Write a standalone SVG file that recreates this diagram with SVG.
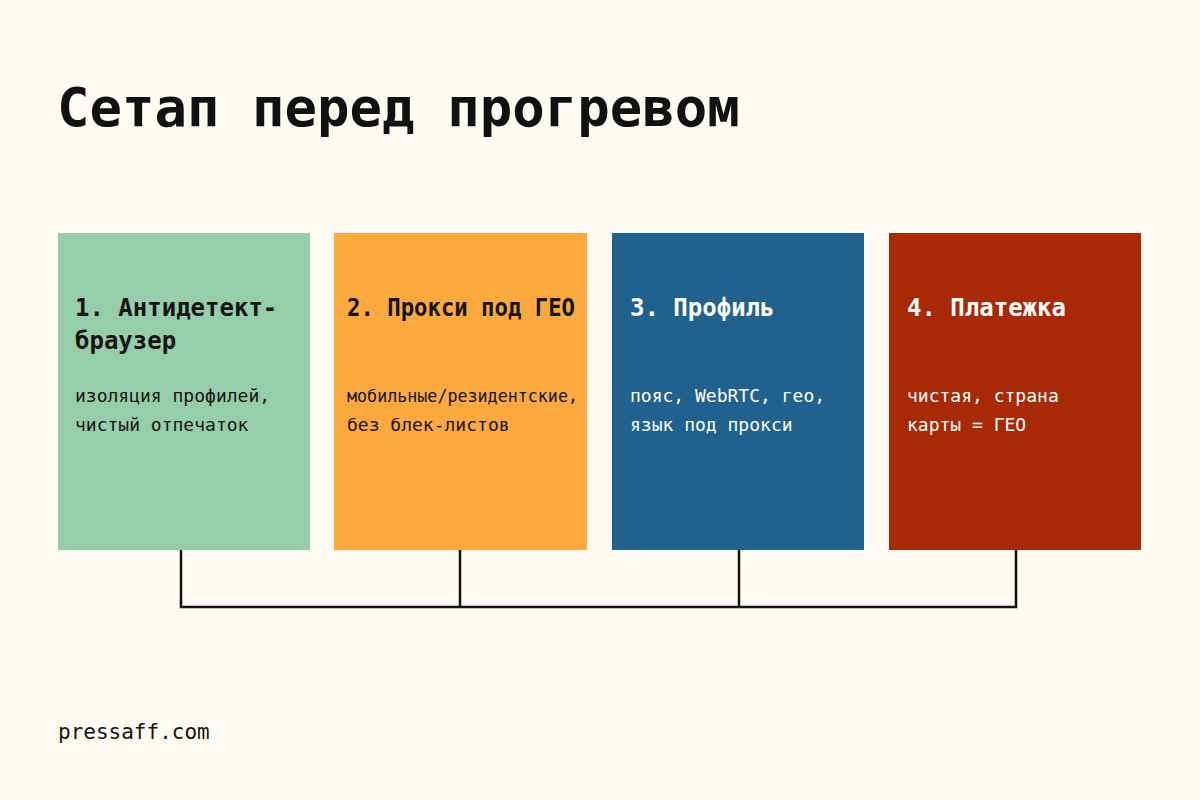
<svg xmlns="http://www.w3.org/2000/svg" width="1200" height="800" viewBox="0 0 1200 800">
<style>
text{font-family:"DejaVu Sans Mono","Liberation Mono",monospace}
.title{font-size:54px;font-weight:bold;fill:#111}
.h{font-size:24px;font-weight:bold}
.b{font-size:18px}
.f{font-size:21px}
.dark{fill:#141414}
.light{fill:#ffffff}
.conn{fill:none;stroke:#111;stroke-width:2.5}
</style>
<rect width="1200" height="800" fill="#FDFBF1"/>
<text class="title" x="57" y="126">Сетап перед прогревом</text>
<g id="node1">
<rect x="58" y="233" width="252" height="317" fill="#96CDAA"/>
<text class="h dark" x="75" y="316">1. Антидетект-</text>
<text class="h dark" x="75" y="349">браузер</text>
<text class="b dark" x="75" y="402">изоляция профилей,</text>
<text class="b dark" x="75" y="431">чистый отпечаток</text>
</g>
<g id="node2">
<rect x="334" y="233" width="253" height="317" fill="#FDA93F"/>
<text class="h dark" x="347" y="316" textLength="228" lengthAdjust="spacingAndGlyphs">2. Прокси под ГЕО</text>
<text class="b dark" x="347" y="402" textLength="231" lengthAdjust="spacingAndGlyphs">мобильные/резидентские,</text>
<text class="b dark" x="347" y="431">без блек-листов</text>
</g>
<g id="node3">
<rect x="612" y="233" width="252" height="317" fill="#20628D"/>
<text class="h light" x="630" y="316">3. Профиль</text>
<text class="b light" x="630" y="402">пояс, WebRTC, гео,</text>
<text class="b light" x="630" y="431">язык под прокси</text>
</g>
<g id="node4">
<rect x="889" y="233" width="252" height="317" fill="#A72A05"/>
<text class="h light" x="907" y="316">4. Платежка</text>
<text class="b light" x="907" y="402">чистая, страна</text>
<text class="b light" x="907" y="431">карты = ГЕО</text>
</g>
<g id="connectors">
<path class="conn" d="M181 550V607H1016V550M460 550V607M739 550V607"/>
</g>
<text class="f dark" x="58" y="739">pressaff.com</text>
</svg>
